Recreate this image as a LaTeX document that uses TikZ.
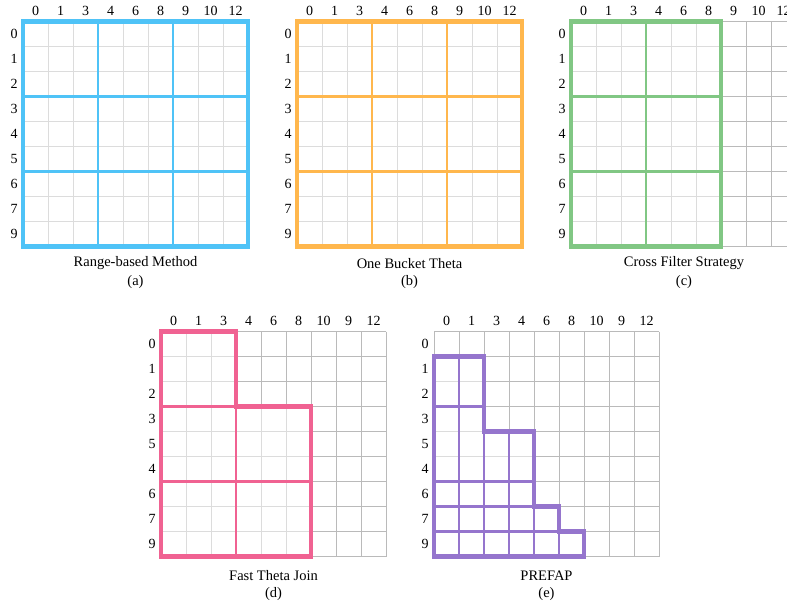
\documentclass[tikz,border=0pt]{standalone}
\usepackage{fontspec}
\setmainfont{Liberation Serif}
\definecolor{cblue}{HTML}{4FC3F7}
\definecolor{corange}{HTML}{FFB74D}
\definecolor{cgreen}{HTML}{81C784}
\definecolor{cpink}{HTML}{F06292}
\definecolor{cpurple}{HTML}{9575CD}
\tikzset{
  lightgrid/.style={draw=black!27, line width=0.8pt},
  veil/.style={fill=white, fill opacity=0.5},
  outerline/.style={line width=4.5pt, line join=miter, line cap=rect},
  innerline/.style={line width=2.2pt},
  lab/.style={font=\fontsize{14}{15}\selectfont, inner sep=0pt},
  captext/.style={font=\fontsize{14.5}{16}\selectfont, inner sep=0pt},
}
% #1 prefix, #2 x, #3 y, #4 column labels, #5 row labels
\newcommand\labgrid[5]{%
  \begin{scope}[shift={(#2,#3)}, x=25pt, y=-25pt]
    \foreach \i in {0,...,9}{
      \draw[lightgrid] (\i,0) -- (\i,9);
      \draw[lightgrid] (0,\i) -- (9,\i);
    }
    \foreach \t [count=\k from 0] in {#4}
      \node[lab] (#1c\k) at (\k+0.5,-0.44) {\t};
    \foreach \t [count=\k from 0] in {#5}
      \node[lab] (#1r\k) at (-0.36,\k+0.5) {\t};
  \end{scope}}
\begin{document}
\begin{tikzpicture}[x=1pt, y=-1pt]
\useasboundingbox (0,0) rectangle (787,606);
\clip (0,0) rectangle (787,606);
\fill[white] (0,0) rectangle (787,606);

% (a)
\labgrid{a}{23}{21.5}{0,1,3,4,6,8,9,10,12}{0,1,2,3,4,5,6,7,9}
\begin{scope}[shift={(23,21.5)}, x=25pt, y=-25pt]
  \fill[veil] (0,0) rectangle (9,9);
  \draw[innerline, cblue] (3,0)--(3,9) (6,0)--(6,9) (0,3)--(9,3) (0,6)--(9,6);
  \draw[outerline, cblue] (0,0) rectangle (9,9);
\end{scope}
\node[captext] (capa) at (135.5,263.5) {Range-based Method};
\node[captext] (capa2) at (135.5,282.5) {(a)};

% (b)
\labgrid{b}{297}{21.5}{0,1,3,4,6,8,9,10,12}{0,1,2,3,4,5,6,7,9}
\begin{scope}[shift={(297,21.5)}, x=25pt, y=-25pt]
  \fill[veil] (0,0) rectangle (9,9);
  \draw[innerline, corange] (3,0)--(3,9) (6,0)--(6,9) (0,3)--(9,3) (0,6)--(9,6);
  \draw[outerline, corange] (0,0) rectangle (9,9);
\end{scope}
\node[captext] (capb) at (409.5,263.5) {One Bucket Theta};
\node[captext] (capb2) at (409.5,282.5) {(b)};

% (c)
\labgrid{c}{571}{21.5}{0,1,3,4,6,8,9,10,12}{0,1,2,3,4,5,6,7,9}
\begin{scope}[shift={(571,21.5)}, x=25pt, y=-25pt]
  \fill[veil] (0,0) rectangle (6,9);
  \draw[innerline, cgreen] (3,0)--(3,9) (0,3)--(6,3) (0,6)--(6,6);
  \draw[outerline, cgreen] (0,0) rectangle (6,9);
\end{scope}
\node[captext] (capc) at (684,263.5) {Cross Filter Strategy};
\node[captext] (capc2) at (684,282.5) {(c)};

% (d)
\labgrid{d}{161}{331.5}{0,1,3,4,6,8,10,9,12}{0,1,2,3,5,4,6,7,9}
\begin{scope}[shift={(161,331.5)}, x=25pt, y=-25pt]
  \fill[veil] (0,0)--(3,0)--(3,3)--(6,3)--(6,9)--(0,9)--cycle;
  \draw[innerline, cpink] (0,3)--(3,3) (0,6)--(6,6) (3,3)--(3,9);
  \draw[outerline, cpink] (0,0)--(3,0)--(3,3)--(6,3)--(6,9)--(0,9)--cycle;
\end{scope}
\node[captext] (capd) at (273.5,576) {Fast Theta Join};
\node[captext] (capd2) at (273.5,594.5) {(d)};

% (e)
\labgrid{e}{434}{331.5}{0,1,3,4,6,8,10,9,12}{0,1,2,3,5,4,6,7,9}
\begin{scope}[shift={(434,331.5)}, x=25pt, y=-25pt]
  \fill[veil] (0,1)--(2,1)--(2,4)--(4,4)--(4,7)--(5,7)--(5,8)--(6,8)--(6,9)--(0,9)--cycle;
  \draw[innerline, cpurple] (1,1)--(1,9) (2,4)--(2,9) (3,4)--(3,9) (4,7)--(4,9) (5,8)--(5,9)
    (0,3)--(2,3) (0,6)--(4,6) (0,7)--(4,7) (0,8)--(5,8);
  \draw[outerline, cpurple] (0,1)--(2,1)--(2,4)--(4,4)--(4,7)--(5,7)--(5,8)--(6,8)--(6,9)--(0,9)--cycle;
\end{scope}
\node[captext] (cape) at (546.5,576) {PREFAP};
\node[captext] (cape2) at (546.5,594.5) {(e)};
\end{tikzpicture}
\end{document}
